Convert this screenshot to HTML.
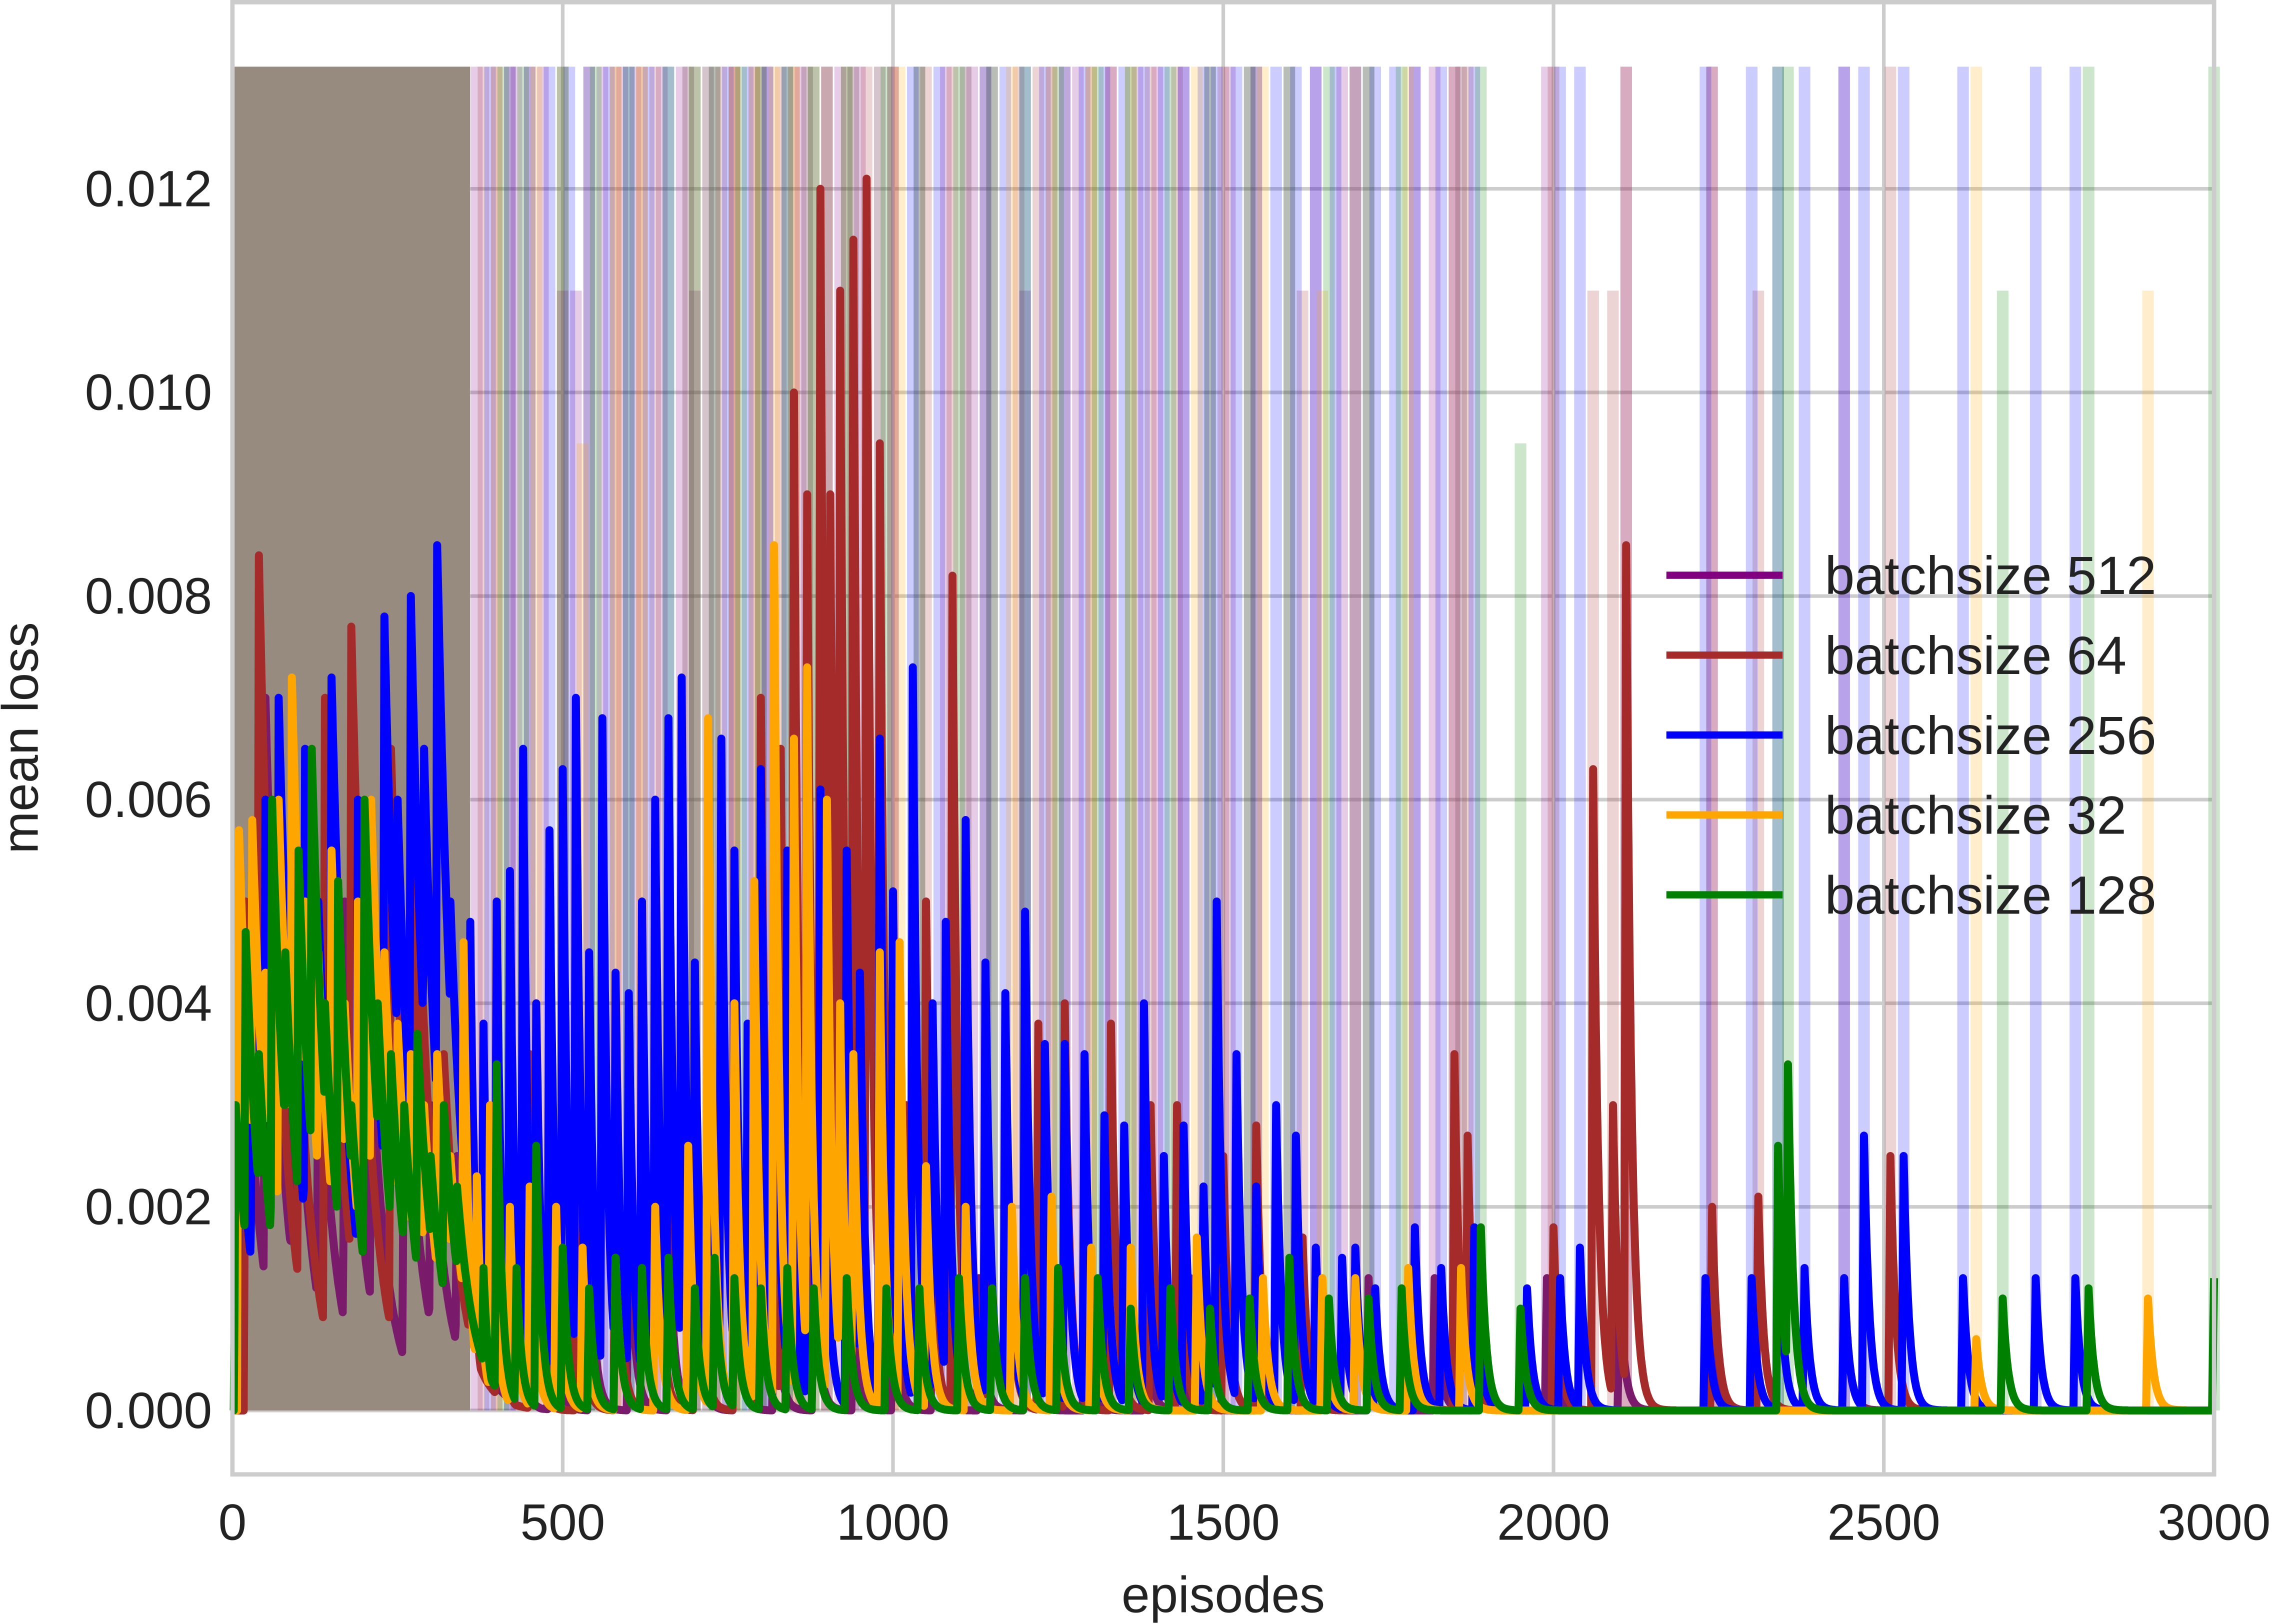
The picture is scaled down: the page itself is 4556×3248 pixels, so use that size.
<!DOCTYPE html>
<html><head><meta charset="utf-8"><style>
html,body{margin:0;padding:0;background:#fff;}
svg{display:block;font-family:"Liberation Sans",sans-serif;}
</style></head><body>
<svg id="chart" width="4556" height="3248" viewBox="0 0 1568 1118" preserveAspectRatio="none" xmlns="http://www.w3.org/2000/svg">
<rect x="0" y="0" width="1568" height="1118" fill="#fff"/>
<g id="grid"></g>
<g id="bands"></g>
<g id="lines"></g>
<rect x="160" y="1.5" width="1364" height="1013.5" fill="none" stroke="#cccccc" stroke-width="3"/>
<g id="ticks" font-size="35" fill="#222"></g>
<text x="842" y="1110" font-size="35" fill="#222" text-anchor="middle">episodes</text>
<text x="26" y="508" font-size="35" fill="#222" text-anchor="middle" transform="rotate(-90 26 508)">mean loss</text>
<g id="legend" font-size="37" fill="#222"></g>
</svg>
<script>
const xTicks=[0,500,1000,1500,2000,2500,3000];
const yTicks=[0,0.002,0.004,0.006,0.008,0.010,0.012];
const yTickLabels=["0.000","0.002","0.004","0.006","0.008","0.010","0.012"];
const seriesNames=["batchsize 512","batchsize 64","batchsize 256","batchsize 32","batchsize 128"];
const seriesColors=["#800080","#a52a2a","#0000ff","#ffa500","#008000"];
// spike lists: [episode, peak loss in 1e-3]
const purpleSpikes=[[20,4],[50,7],[90,5],[130,4],[170,5],[210,3.5],[260,4],[300,3],[340,2.5],[380,2.2],[430,2],[480,2.5],[540,2],[600,2.2],[660,2],[700,2],[760,1.5],[820,1.5],[880,1.5],[940,1.2],[1000,1.3],[1060,1.4],[1130,1.3],[1200,1.3],[1290,1.4],[1380,1.3],[1450,1.3],[1550,1.2],[1640,1.1],[1720,1.3],[1820,1.3],[1880,1.4],[1990,1.3],[2100,1.2],[2240,1.3],[2440,1.3]];
const brownSpikes=[[20,5],[40,8.4],[60,6],[100,3.8],[140,7],[180,7.7],[200,3.8],[240,6.5],[280,5.5],[320,3.5],[360,3],[400,2],[450,3.5],[520,3],[580,2.5],[640,3.5],[700,4],[760,4],[800,7],[830,6.5],[850,10],[870,9],[890,12],[905,9],[920,11],[940,11.5],[960,12.1],[980,9.5],[1000,5],[1020,3],[1050,5],[1090,8.2],[1110,4.5],[1140,4.2],[1170,3.5],[1220,3.8],[1260,4],[1330,3.8],[1390,3],[1430,3],[1500,2.5],[1550,2.8],[1620,1.7],[1700,1.5],[1790,1.4],[1850,3.5],[1870,2.7],[2000,1.8],[2060,6.3],[2090,3],[2110,8.5],[2240,2],[2310,2.1],[2510,2.5]];
const blueSpikes=[[10,3],[30,5.5],[50,6],[70,7],[90,4],[110,6.5],[130,5],[150,7.2],[170,3],[190,6],[210,5],[230,7.8],[250,6],[270,8],[290,6.5],[310,8.5],[330,5],[360,4.8],[380,3.8],[400,5],[420,5.3],[440,6.5],[460,4],[480,5.7],[500,6.3],[520,7],[540,4.5],[560,6.8],[580,4.3],[600,4.1],[620,5],[640,6],[660,6.8],[680,7.2],[700,4.4],[720,5.4],[740,6.6],[760,5.5],[780,3.8],[800,6.3],[820,5.2],[840,5.5],[870,5.8],[890,6.1],[930,5.5],[950,4.3],[980,6.6],[1000,5.1],[1030,7.3],[1060,4],[1080,4.8],[1110,5.8],[1140,4.4],[1170,4.1],[1200,4.9],[1230,3.6],[1260,3.6],[1290,3.5],[1320,2.9],[1350,2.8],[1380,4],[1410,2.5],[1440,2.8],[1470,2.2],[1490,5],[1520,3.5],[1550,2.2],[1580,3],[1610,2.7],[1640,1.6],[1680,1.5],[1700,1.6],[1730,1.2],[1790,1.8],[1830,1.4],[1880,1.8],[1960,1.2],[2010,1.3],[2040,1.6],[2230,1.3],[2300,1.3],[2340,1.9],[2380,1.4],[2440,1.3],[2470,2.7],[2530,2.5],[2620,1.3],[2730,1.3],[2790,1.3]];
const orangeSpikes=[[10,5.7],[30,5.8],[50,4.3],[70,6],[90,7.2],[110,5],[130,4.5],[150,5.5],[170,4],[190,5],[210,6],[230,4.5],[250,3.8],[270,3.5],[290,3],[310,3.5],[330,2.5],[350,4.6],[370,2.3],[390,3],[420,2],[450,2.2],[490,2],[530,1.6],[580,1.5],[640,2],[690,2.6],[720,6.8],[760,4],[790,5.2],[820,8.5],[850,6.6],[870,7.3],[900,6],[920,4],[940,3.5],[980,4.5],[1010,4.6],[1050,2.4],[1110,2],[1180,2],[1240,2.1],[1300,1.6],[1360,1.6],[1460,1.7],[1560,1.3],[1650,1.3],[1700,1.3],[1780,1.4],[1860,1.4],[2640,0.7],[2900,1.1]];
const greenSpikes=[[5,3],[20,4.7],[40,3.5],[60,6],[80,4.5],[100,5.5],[120,6.5],[140,4],[160,5.2],[180,3],[200,6],[220,4],[240,3.5],[260,3],[280,3.7],[300,2.5],[320,3],[340,2.2],[380,1.4],[400,3.4],[430,1.4],[460,2.6],[500,1.6],[540,1.2],[580,1.5],[620,1.4],[660,1.5],[700,1.2],[730,1.5],[760,1.3],[800,1.2],[840,1.4],[880,1.2],[930,1.3],[990,1.2],[1040,1.2],[1100,1.3],[1150,1.2],[1200,1.3],[1250,1.4],[1310,1.3],[1360,1],[1420,1.2],[1480,1],[1540,1.1],[1600,1.5],[1660,1.1],[1720,1.1],[1770,1.2],[1890,1.8],[1950,1],[2340,2.6],[2355,3.4],[2680,1.1],[2810,1.2],[3000,1.3]];
// std band spikes: [episode, band top in 1e-3]
const purpleBand=[[370,13.2],[400,13.2],[430,13.2],[470,13.2],[500,11],[520,11],[560,13.2],[590,13.2],[610,13.2],[650,13.2],[680,13.2],[700,11],[730,13.2],[760,13.2],[790,13.2],[810,13.2],[860,13.2],[920,13.2],[950,13.2],[1000,13.2],[1040,13.2],[1080,13.2],[1120,13.2],[1150,13.2],[1200,11],[1240,13.2],[1280,13.2],[1330,13.2],[1370,13.2],[1400,13.2],[1440,13.2],[1480,13.2],[1510,13.2],[1540,13.2],[1600,13.2],[1640,13.2],[1680,13.2],[1700,13.2],[1720,13.2],[1790,13.2],[1820,13.2],[1850,13.2],[1990,13.2],[2110,13.2],[2240,13.2],[2440,13.2]];
const brownBand=[[380,13.2],[420,13.2],[450,13.2],[500,13.2],[540,13.2],[580,13.2],[620,13.2],[640,13.2],[700,13.2],[740,13.2],[760,13.2],[800,13.2],[830,13.2],[850,13.2],[880,13.2],[900,13.2],[930,13.2],[960,13.2],[1000,13.2],[1050,13.2],[1090,13.2],[1140,13.2],[1190,13.2],[1220,13.2],[1260,13.2],[1300,13.2],[1330,13.2],[1390,13.2],[1430,13.2],[1500,13.2],[1550,13.2],[1620,11],[1850,13.2],[1870,13.2],[2000,13.2],[2060,11],[2090,11],[2110,13.2],[2240,13.2],[2310,11],[2510,13.2]];
const blueBand=[[390,13.2],[420,13.2],[450,13.2],[480,13.2],[510,13.2],[540,13.2],[570,13.2],[600,13.2],[630,13.2],[660,13.2],[690,13.2],[720,13.2],[750,13.2],[780,13.2],[810,13.2],[840,13.2],[870,13.2],[900,13.2],[940,13.2],[980,13.2],[1030,13.2],[1070,13.2],[1110,13.2],[1140,13.2],[1170,13.2],[1200,13.2],[1230,13.2],[1260,13.2],[1290,13.2],[1320,13.2],[1350,13.2],[1380,13.2],[1410,13.2],[1440,13.2],[1470,13.2],[1490,13.2],[1520,13.2],[1550,13.2],[1580,13.2],[1610,13.2],[1640,13.2],[1670,13.2],[1700,13.2],[1730,13.2],[1760,13.2],[1790,13.2],[1830,13.2],[1860,13.2],[1880,13.2],[2010,13.2],[2040,13.2],[2230,13.2],[2300,13.2],[2340,13.2],[2380,13.2],[2440,13.2],[2470,13.2],[2530,13.2],[2620,13.2],[2730,13.2],[2790,13.2]];
const orangeBand=[[400,13.2],[460,13.2],[530,9.5],[580,13.2],[620,13.2],[690,13.2],[720,13.2],[760,13.2],[790,13.2],[820,13.2],[850,13.2],[870,13.2],[900,13.2],[940,13.2],[980,13.2],[1010,13.2],[1110,13.2],[1180,13.2],[1240,13.2],[1300,13.2],[1360,13.2],[1460,13.2],[1560,13.2],[1650,11],[1700,13.2],[1780,13.2],[1860,13.2],[2640,13.2],[2900,11]];
const greenBand=[[410,13.2],[440,13.2],[500,13.2],[550,13.2],[600,13.2],[660,13.2],[700,13.2],[730,13.2],[770,13.2],[800,13.2],[840,13.2],[880,13.2],[930,13.2],[990,13.2],[1040,13.2],[1100,13.2],[1150,13.2],[1200,13.2],[1250,13.2],[1310,13.2],[1360,13.2],[1420,13.2],[1480,13.2],[1540,13.2],[1600,13.2],[1660,13.2],[1720,13.2],[1770,13.2],[1890,13.2],[1950,9.5],[2340,13.2],[2355,13.2],[2680,11],[2810,13.2],[3000,13.2]];
const earlyBandEnd=[360];
const earlyBandTop=[13.2];

const NS="http://www.w3.org/2000/svg";
const X0=160,X1=1524,Y0=971,Y12=130;
function xs(v){return X0+(v/3000)*(X1-X0);}
function ys(v){return Y0-(v/0.012)*(Y0-Y12);}
function mk(tag,attrs,parent){const e=document.createElementNS(NS,tag);for(const k in attrs)e.setAttribute(k,attrs[k]);parent.appendChild(e);return e;}
const grid=document.getElementById('grid'),ticks=document.getElementById('ticks');
xTicks.forEach(t=>{
  const l=mk('line',{x1:xs(t),x2:xs(t),y1:2,y2:1015,stroke:'#cccccc','stroke-width':2.5},grid);
  
  
  const tx=mk('text',{x:xs(t),y:1060,'text-anchor':'middle'},ticks);tx.textContent=t;
  
  
});
yTicks.forEach((t,i)=>{
  const l=mk('line',{x1:160,x2:1524,y1:ys(t),y2:ys(t),stroke:'#cccccc','stroke-width':2.5},grid);
  
  
  const tx=mk('text',{x:146,y:ys(t)+12,'text-anchor':'end'},ticks);tx.textContent=yTickLabels[i];
  
  
});
const bands=document.getElementById('bands');
const er=mk('rect',{x:xs(0),y:ys(earlyBandTop[0]/1000),width:xs(earlyBandEnd[0])-xs(0),height:ys(0)-ys(earlyBandTop[0]/1000),fill:'#978a7f'},bands);


const bandSets=[purpleBand,brownBand,blueBand,orangeBand,greenBand];
bandSets.forEach((b,si)=>{
  b.forEach(([e,h])=>{
    const r=mk('rect',{x:xs(e)-4,y:ys(h/1000),width:8,height:ys(0)-ys(h/1000),fill:seriesColors[si],opacity:0.2},bands);
    
    
  });
});
const lines=document.getElementById('lines');
const spikeSets=[purpleSpikes,brownSpikes,blueSpikes,orangeSpikes,greenSpikes];
const lineColors=["#7a1a6a","#a52a2a","#0000ff","#ffa500","#008000"];
spikeSets.forEach((sp,si)=>{
  let d='';
  for(let t=0;t<=3000;t+=1){
    let v=0;
    sp.forEach(([e,h])=>{const tau=e<345?26:8;let dt=t-e;let val=0;if(dt>=-3&&dt<0)val=h*(1+dt/3);else if(dt>=0)val=h*Math.exp(-dt/tau);if(val>v)v=val;});
    d+=(t===0?'M':'L')+xs(t).toFixed(1)+' '+ys(v/1000).toFixed(1);
  }
  const p=mk('path',{d:d,fill:'none',stroke:lineColors[si],'stroke-width':5.5,'stroke-linejoin':'round'},lines);
  
  
});
const legend=document.getElementById('legend');
seriesNames.forEach((n,i)=>{
  const y=396+i*55;
  const l=mk('line',{x1:1147,x2:1227,y1:y,y2:y,stroke:seriesColors[i],'stroke-width':5},legend);
  
  
  const t=mk('text',{x:1256,y:y+13},legend);t.textContent=n;
  
  
});
</script>
</body></html>
